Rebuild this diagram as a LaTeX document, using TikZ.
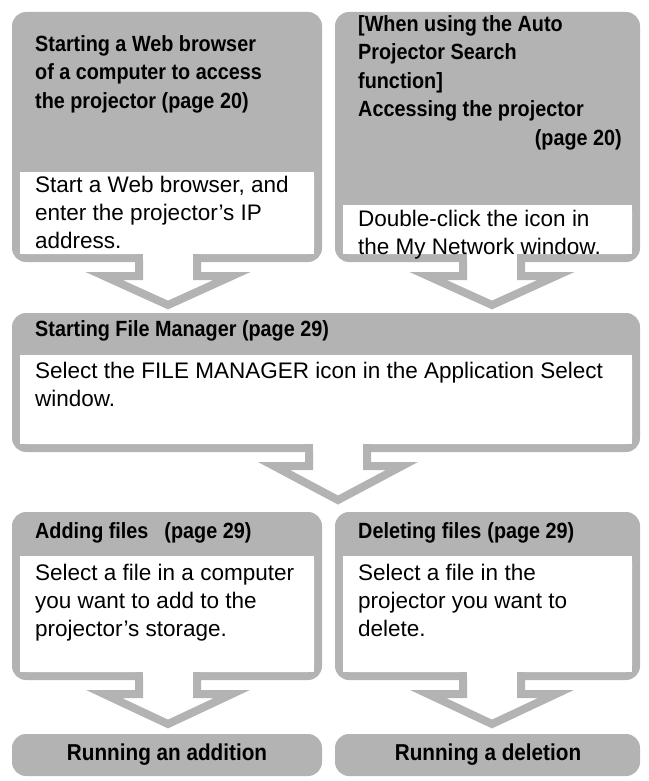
\documentclass[tikz,border=0pt]{standalone}
\usepackage{fontspec}
\setmainfont{Liberation Sans}
\newfontfamily\condfont{Liberation Sans}[FakeStretch=0.9]
\definecolor{bx}{HTML}{B3B3B3}
\begin{document}
\begin{tikzpicture}[x=1pt,y=-1pt,
  hd/.style={anchor=north west,inner sep=0pt,align=left,font=\condfont\fontsize{22}{28.5}\selectfont\bfseries},
  bd/.style={anchor=north west,inner sep=0pt,align=left,font=\fontsize{22.5}{28}\selectfont},
  pill/.style={fill=bx,rounded corners=14pt},
  arr/.style={draw=bx,line width=8pt,fill=white,line join=miter}]
\useasboundingbox (0,0) rectangle (648,781);
\newcommand\flowbox[5]{%
  \fill[bx,rounded corners=14pt] (#1,#2) rectangle (#3,#4);
  \fill[white,rounded corners=6pt] (#1+8,#5) -- (#3-8,#5) -- (#3-8,#4-8) -- (#1+8,#4-8) -- cycle;}
\newcommand\flowarrow[4]{%
  \draw[arr] (#1-29,#2-10) -- (#1-29,#3) -- (#1-64,#3) -- (#1,#4) -- (#1+64,#3) -- (#1+29,#3) -- (#1+29,#2-10);
  \fill[white] (#1-25,#2-12) rectangle (#1+25,#2+6);}
% top boxes
\flowbox{12}{12}{322}{262}{172}
\flowbox{335}{12}{640}{262}{205}
\flowarrow{168}{254}{276}{305}
\flowarrow{492}{254}{276}{305}
\fill[white] (20,172) rectangle (314,254);
\fill[white] (343,205) rectangle (632,254);
% middle
\flowbox{12}{313}{640}{452}{355}
\flowarrow{338}{444}{466}{500}
\fill[white] (20,355) rectangle (632,444);
% bottom
\flowbox{12}{512}{322}{680}{556}
\flowbox{335}{512}{640}{680}{556}
\flowarrow{168}{672}{694}{724}
\flowarrow{492}{672}{694}{724}
\fill[white] (20,556) rectangle (314,672);
\fill[white] (343,556) rectangle (632,672);
% texts
\node[hd] (h1) at (35,35) {Starting a Web browser\\of a computer to access\\the projector (page 20)};
\node[bd] (b1) at (35,176) {Start a Web browser, and\\enter the projector’s IP\\address.};
\node[hd] (h2) at (358,15) {[When using the Auto\\Projector Search\\function]\\Accessing the projector};
\node[hd,anchor=north east] (h2b) at (622,129) {(page 20)};
\node[bd] (b2) at (358,210) {Double-click the icon in\\the My Network window.};
\node[hd] (h3) at (35,320) {Starting File Manager (page 29)};
\node[bd] (b3) at (35,362) {Select the FILE MANAGER icon in the Application Select\\window.};
\node[hd] (h4) at (35,522) {Adding files\hspace{16pt}(page 29)};
\node[bd] (b4) at (35,564) {Select a file in a computer\\you want to add to the\\projector’s storage.};
\node[hd] (h5) at (358,522) {Deleting files\hspace{6pt}(page 29)};
\node[bd] (b5) at (358,564) {Select a file in the\\projector you want to\\delete.};
\fill[pill] (12,734) rectangle (322,776);
\fill[pill] (335,734) rectangle (640,776);
\node[font=\condfont\fontsize{23}{24}\selectfont\bfseries] (p1) at (167,755) {Running an addition};
\node[font=\condfont\fontsize{23}{24}\selectfont\bfseries] (p2) at (488,755) {Running a deletion};
\end{tikzpicture}
\end{document}
